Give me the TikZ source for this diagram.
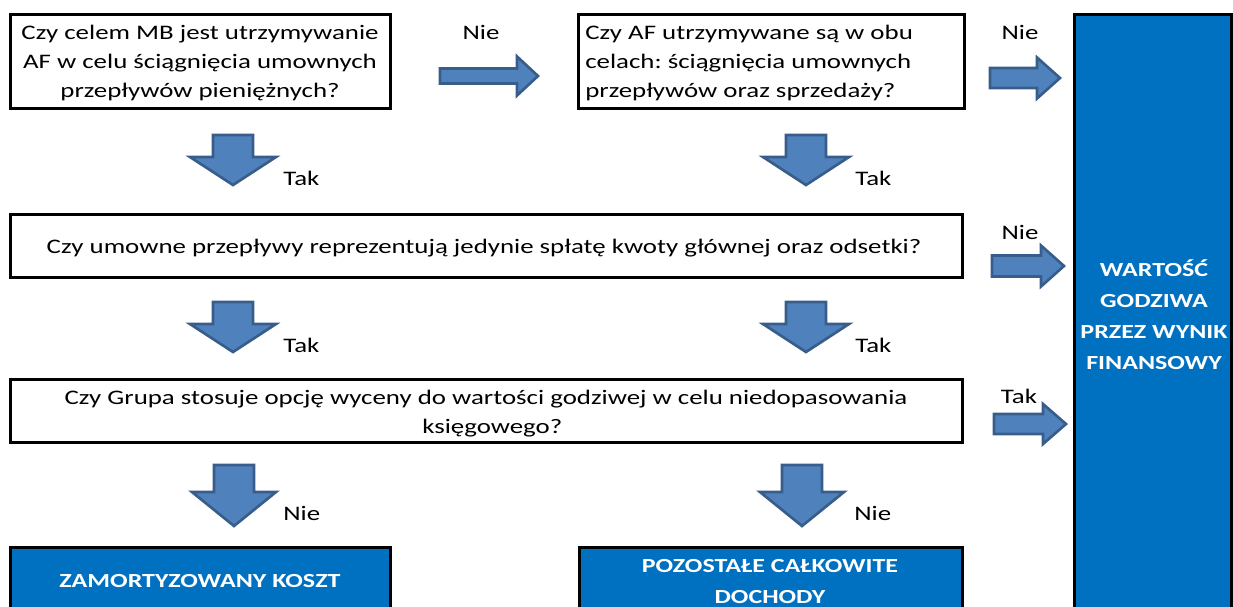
\documentclass[tikz,border=0pt]{standalone}
\usepackage{fontspec}
\setmainfont{Carlito}[FakeStretch=1.30]
\definecolor{boxblue}{HTML}{0070C0}
\definecolor{arrfill}{HTML}{4F81BD}
\definecolor{arrline}{HTML}{385D8A}
\newcommand\rblock[6]{% x1, xbase, xtip, yc, shaft half, head half
  \draw[blockarrow] ({#1},{#4-#5}) -- ({#2},{#4-#5}) -- ({#2},{#4-#6}) -- ({#3},{#4})
    -- ({#2},{#4+#6}) -- ({#2},{#4+#5}) -- ({#1},{#4+#5}) -- cycle;}
\newcommand\dblock[6]{% xc, ytop, ybase, ytip, shaft half, head half
  \draw[blockarrow] ({#1-#5},{#2}) -- ({#1+#5},{#2}) -- ({#1+#5},{#3}) -- ({#1+#6},{#3})
    -- ({#1},{#4}) -- ({#1-#6},{#3}) -- ({#1-#5},{#3}) -- cycle;}
\frenchspacing
\begin{document}
\begin{tikzpicture}[x=0.75pt,y=-0.75pt,
  qbox/.style={draw=black, line width=2.25pt, fill=white, inner sep=0pt},
  bluebox/.style={draw=black, line width=2.25pt, fill=boxblue, inner sep=0pt},
  qtext/.style={font=\fontsize{15.5}{21.4}\selectfont, align=center, inner sep=0pt},
  btext/.style={font=\fontsize{15}{23.25}\selectfont\bfseries, text=white, align=center, inner sep=0pt},
  lbl/.style={font=\fontsize{15.5}{18}\selectfont, inner sep=0pt},
  blockarrow/.style={fill=arrfill, draw=arrline, line width=2pt, line join=miter}]
\useasboundingbox (0,0) rectangle (1233,607);
\clip (0,0) rectangle (1233,607);

% question boxes
\node[qbox, minimum width=285pt, minimum height=70.5pt] (q1) at (200,61) {};
\node[qbox, minimum width=289.5pt, minimum height=70.5pt] (q2) at (771,61) {};
\node[qbox, minimum width=714pt, minimum height=47.25pt] (q3) at (486,245.5) {};
\node[qbox, minimum width=714pt, minimum height=47.25pt] (q4) at (486,410.5) {};

% result boxes
\node[bluebox, minimum width=285pt, minimum height=51pt] (r1) at (200,581) {};
\node[bluebox, minimum width=287.25pt, minimum height=51pt] (r2) at (770.5,581) {};
\node[bluebox, minimum width=117.75pt, minimum height=451.5pt] (r3) at (1152.5,315) {};

% texts
\node[qtext] (t1) at (200,63) {Czy celem MB jest utrzymywanie\\AF w celu ściągnięcia umownych\\przepływów pieniężnych?};
\node[qtext, align=left, anchor=west] (t2) at (585,63) {Czy AF utrzymywane są w obu\\celach: ściągnięcia umownych\\przepływów oraz sprzedaży?};
\node[qtext, anchor=base] (t3) at (484,253) {Czy umowne przepływy reprezentują jedynie spłatę kwoty głównej oraz odsetki?};
\node[qtext, anchor=base] (t4a) at (486,404) {Czy Grupa stosuje opcję wyceny do wartości godziwej w celu niedopasowania};
\node[qtext, anchor=base west] (t4b) at (422,433) {księgowego?};
\node[btext] (u1) at (200,581) {ZAMORTYZOWANY KOSZT};
\node[btext] (u2) at (770,582) {POZOSTAŁE CAŁKOWITE\\DOCHODY};
\node[btext] (u3) at (1154,315) {WARTOŚĆ\\GODZIWA\\PRZEZ WYNIK\\FINANSOWY};

% horizontal block arrows
\rblock{440}{517}{538}{76}{7.5}{19.5}
\rblock{990}{1037}{1060}{78}{10}{20.5}
\rblock{992}{1041}{1064}{266}{10.5}{20.5}
\rblock{994}{1043}{1066}{424}{10}{20}

% vertical block arrows
\dblock{233}{135}{157}{185}{20}{43}
\dblock{806}{135}{157}{185}{20}{43}
\dblock{233}{302}{324}{352}{20}{43}
\dblock{806}{302}{324}{352}{20}{43}
\dblock{234}{465}{492}{526}{20}{42}
\dblock{802}{465}{492}{526}{20}{42}

% labels
\node[lbl, anchor=base] (l1) at (481,39) {Nie};
\node[lbl, anchor=base] (l2) at (1020,39) {Nie};
\node[lbl, anchor=base] (l3) at (1020,239) {Nie};
\node[lbl, anchor=base] (l4) at (1019,403) {Tak};
\node[lbl, anchor=base west] (l5) at (283,185) {Tak};
\node[lbl, anchor=base west] (l6) at (855,185) {Tak};
\node[lbl, anchor=base west] (l7) at (283,352) {Tak};
\node[lbl, anchor=base west] (l8) at (855,352) {Tak};
\node[lbl, anchor=base west] (l9) at (283,520) {Nie};
\node[lbl, anchor=base west] (l10) at (854,520) {Nie};
\end{tikzpicture}
\end{document}
